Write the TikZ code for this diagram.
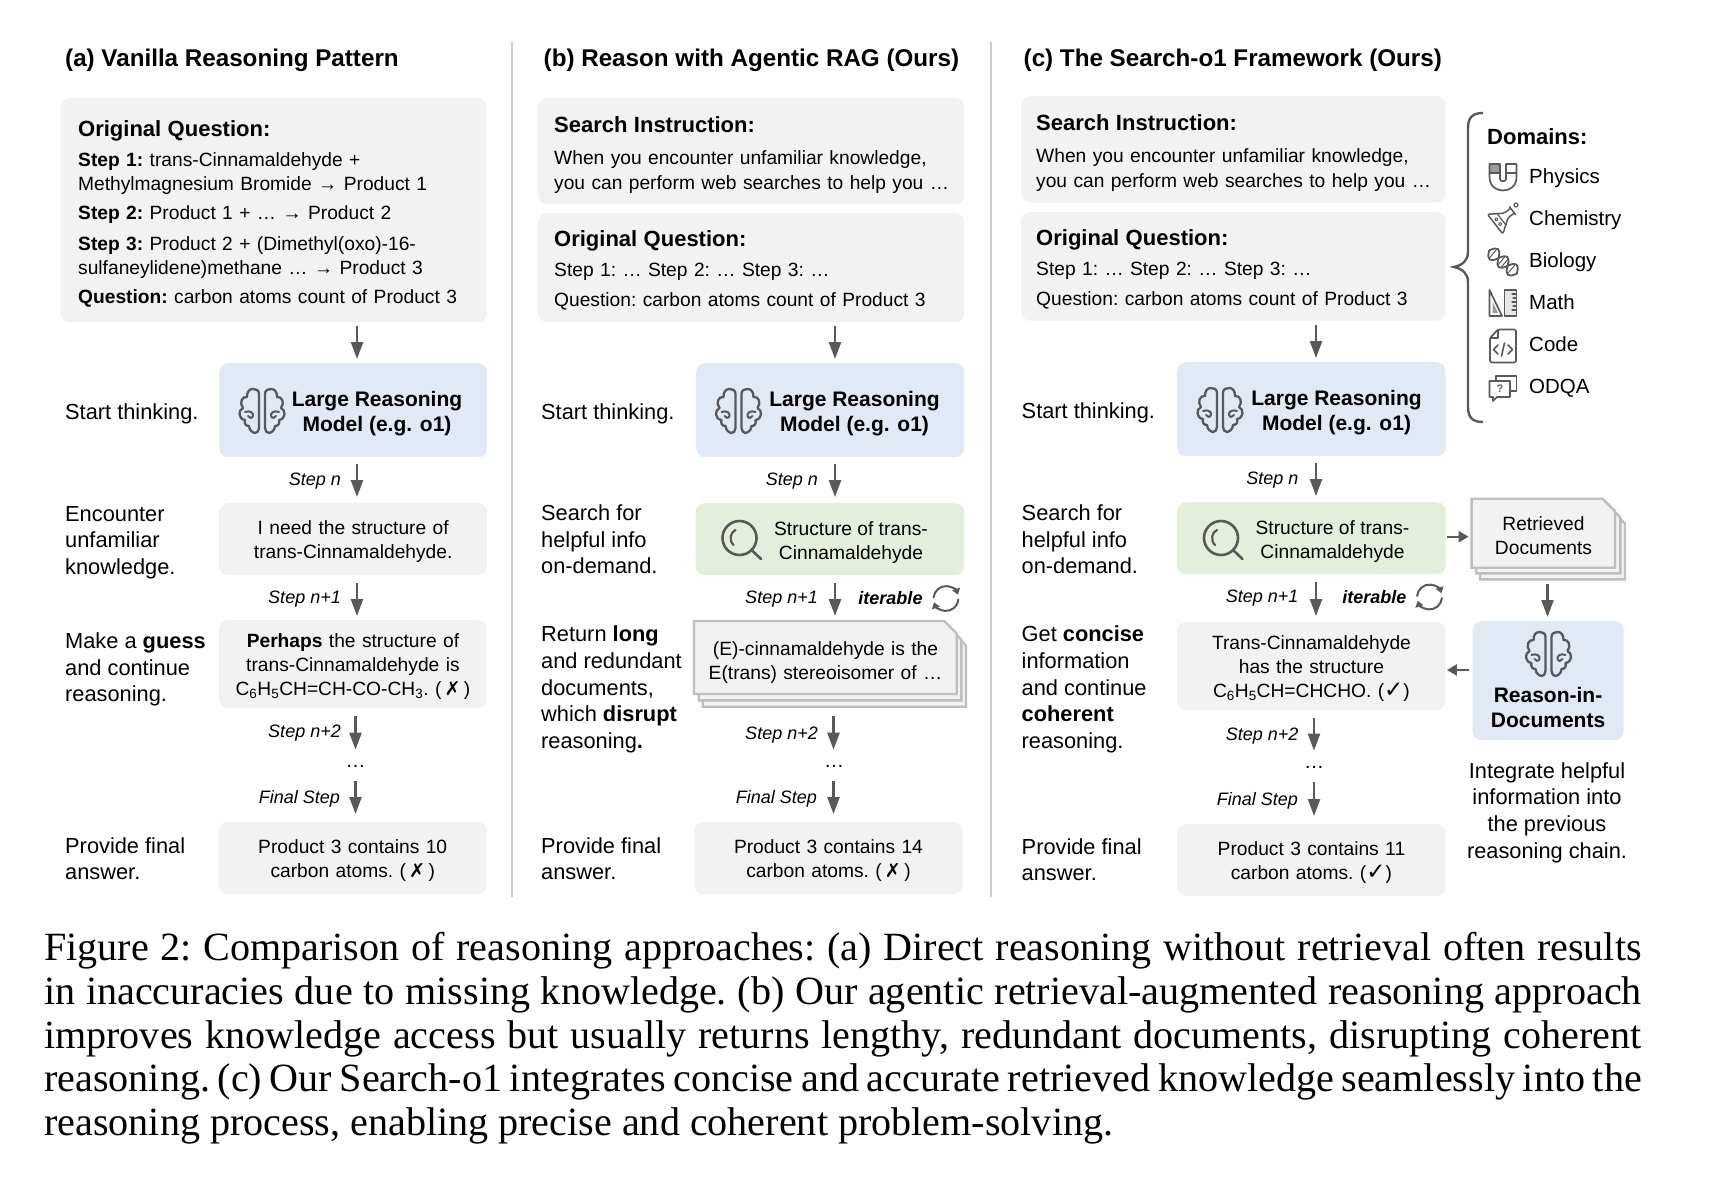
\documentclass[tikz,border=0pt]{standalone}
\usepackage{fontspec}
\setmainfont{Liberation Sans}
\newfontfamily\capfont{Liberation Serif}
\newfontfamily\symfont{DejaVu Sans}
\usetikzlibrary{arrows.meta}

\definecolor{panelgrey}{HTML}{F2F2F2}
\definecolor{panelblue}{HTML}{E0E9F4}
\definecolor{panelgreen}{HTML}{E3EEDB}
\definecolor{sheetline}{HTML}{BEBEBE}
\definecolor{inkgrey}{HTML}{595959}

\newcommand{\bodyfont}{\fontsize{19.2}{24}\selectfont\frenchspacing}
\newcommand{\headfont}{\fontsize{22}{26}\selectfont\bfseries}
\newcommand{\nope}{{\symfont\bfseries ✗}}
\newcommand{\yep}{{\symfont\fontsize{23}{24}\selectfont ✓}}
\newcommand{\nudge}[1][5pt]{\par\nointerlineskip\vskip-#1\hbox{}}
\newcommand{\docsheet}[4]{\draw[sheet] (#1,#2) -- (#3-12.5,#2) -- (#3,#2+12.5) -- (#3,#4) -- (#1,#4) -- cycle;}

\tikzset{
	panel/.style={rounded corners=9pt,inner sep=0pt,anchor=north west,align=center,font=\bodyfont},
	greypanel/.style={panel,fill=panelgrey},
	bluepanel/.style={panel,fill=panelblue},
	greenpanel/.style={panel,fill=panelgreen},
	sheet/.style={draw=sheetline,fill=panelgrey,line width=2.4pt},
	sheettext/.style={inner sep=0pt,anchor=north west,align=center,font=\bodyfont},
	title/.style={inner sep=0pt,anchor=west,yshift=-2.5pt,font=\fontsize{24.2}{28}\selectfont\bfseries},
	domainhead/.style={inner sep=0pt,anchor=west,font=\headfont},
	domaintext/.style={inner sep=0pt,anchor=west,yshift=-1pt,text height=15pt,text depth=4pt,font=\fontsize{20.5}{24}\selectfont},
	sidetag/.style={inner sep=0pt,anchor=west,yshift=-2.5pt,align=left,font=\fontsize{21.8}{26.6}\selectfont\frenchspacing},
	steptag/.style={inner sep=0pt,anchor=east,yshift=-2.5pt,font=\fontsize{18}{22}\selectfont\itshape},
	itertag/.style={inner sep=0pt,anchor=east,font=\fontsize{18}{22}\selectfont\bfseries\itshape},
	modeltext/.style={inner sep=0pt,align=center,yshift=-2.5pt,font=\fontsize{21}{25}\selectfont\bfseries},
	plaintext/.style={inner sep=0pt,align=center,yshift=-3.5pt,font=\bodyfont},
	moredots/.style={inner sep=0pt,anchor=base,font=\fontsize{20}{24}\selectfont},
	flow/.style={draw=inkgrey,line width=2.4pt,-{Triangle[length=17pt,width=12pt]}},
	sideflow/.style={draw=inkgrey,line width=2.4pt,-{Triangle[length=10pt,width=11pt]}},
	iconline/.style={draw=inkgrey,line width=1.7pt,line join=round,line cap=round},
	brainicon/.pic={
		\foreach \flip in {1,-1}{
			\begin{scope}[xscale=\flip]
				\draw[iconline,line width=2.3pt] (3,-17) .. controls (3,-21) and (6,-22) .. (9,-22)
					.. controls (13,-22) and (15,-19) .. (15,-14) .. controls (20,-15) and (23,-8) .. (19,-3)
					.. controls (24,-1) and (24,8) .. (17,9) .. controls (18,13) and (16,15) .. (13,15)
					.. controls (13,20) and (8,22) .. (7,22) .. controls (5,22) and (3,20) .. (3,17) -- cycle;
				\draw[iconline,line width=2pt] (17,1) .. controls (12,-1) and (8,2) .. (9,5) .. controls (10,8) and (13,7) .. (14,5);
			\end{scope}
		}
	},
	lensicon/.pic={
		\draw[iconline,line width=2.6pt] (0,0) circle (17pt);
		\draw[iconline,line width=2.6pt] (12,12) -- (21.5,21);
		\draw[iconline,line width=2.2pt] (-6,7) .. controls (-11,2) and (-9,-6) .. (-4,-8);
	},
	loopicon/.pic={
		\draw[iconline,line width=2pt,-{Triangle[length=6pt,width=8pt]}] (-12.4,-1) arc[start angle=175,end angle=18,radius=12.5pt];
		\draw[iconline,line width=2pt,-{Triangle[length=6pt,width=8pt]}] (12.4,1) arc[start angle=-5,end angle=-162,radius=12.5pt];
	},
	magneticon/.pic={
		\fill[inkgrey!60] (-13.5,-13) rectangle (-3,-4);
		\draw[iconline] (-13.5,-13) -- (-13.5,0) .. controls (-13.5,9) and (-7,13.5) .. (0,13.5)
			.. controls (7,13.5) and (13.5,9) .. (13.5,0) -- (13.5,-13) -- (3,-13) -- (3,2)
			.. controls (3,5) and (-3,5) .. (-3,2) -- (-3,-13) -- cycle;
		\draw[iconline] (-13.5,-4) -- (-3,-4) (3,-4) -- (13.5,-4);
	},
	flaskicon/.pic={
		\begin{scope}[rotate=-52]
			\draw[iconline,line width=1.5pt,rounded corners=2pt] (-3,-12) -- (-3,-4) -- (-12.5,10) -- (12.5,10) -- (3,-4) -- (3,-12);
			\draw[iconline,line width=1.5pt] (-5,-12) -- (5,-12);
			\draw[iconline,line width=1.2pt] (-7.5,2) -- (7.5,2);
			\draw[iconline,line width=1pt] (-3,6) circle (1.6pt) (3,6) circle (1.6pt);
		\end{scope}
		\draw[iconline,line width=1.2pt] (13,-13) circle (2pt);
	},
	helixicon/.pic={
		\begin{scope}[rotate=-40]
			\draw[iconline,line width=1.8pt] (-18,0) .. controls (-14,-9) and (-10,-9) .. (-6,0) .. controls (-2,9) and (2,9) .. (6,0) .. controls (10,-9) and (14,-9) .. (18,0);
			\draw[iconline,line width=1.8pt] (-18,0) .. controls (-14,9) and (-10,9) .. (-6,0) .. controls (-2,-9) and (2,-9) .. (6,0) .. controls (10,9) and (14,9) .. (18,0);
			\draw[iconline,line width=1pt] (-13,-5) -- (-13,5) (-2,-5) -- (-2,5) (2,-5) -- (2,5) (11,-5) -- (11,5);
		\end{scope}
	},
	rulericon/.pic={
		\draw[iconline] (-13.5,-13) -- (-13.5,13) -- (-1,13) -- cycle;
		\fill[inkgrey!60] (-10.5,-1) -- (-10.5,10) -- (-5,10) -- cycle;
		\fill[inkgrey!15] (1.5,-13) rectangle (13.5,13);
		\draw[iconline] (1.5,-13) rectangle (13.5,13);
		\draw[iconline,line width=1.1pt] (13,-9) -- (9,-9) (13,-5) -- (10,-5) (13,-1) -- (9,-1) (13,3) -- (10,3) (13,7) -- (9,7);
	},
	codeicon/.pic={
		\draw[iconline,rounded corners=1.5pt] (-5,-16.5) -- (13,-16.5) -- (13,16.5) -- (-13,16.5) -- (-13,-8) -- cycle;
		\draw[iconline,line width=1.2pt] (-5,-16.5) -- (-5,-8) -- (-13,-8);
		\draw[iconline,line width=1.6pt] (-5,-1) -- (-9.5,3.5) -- (-5,8) (5,-1) -- (9.5,3.5) -- (5,8) (1.5,-3) -- (-1.5,10);
	},
	bubbleicon/.pic={
		\draw[iconline] (-7,-7) -- (-7,-12) -- (13.5,-12) -- (13.5,3) -- (8,3);
		\draw[iconline] (-13.5,-7) -- (7,-7) -- (7,9) -- (-6,9) -- (-10,13) -- (-10,9) -- (-13.5,9) -- cycle;
		\node[inner sep=0pt,text=inkgrey,font=\fontsize{11}{12}\selectfont\bfseries] (mark) at (-3,1) {?};
	}
}

\begin{document}
\begin{tikzpicture}[x=1pt,y=-1pt]
	\useasboundingbox (0,0) rectangle (1718,1178);

	% column rules
	\draw[draw=sheetline!80,line width=2pt] (512,42) -- (512,897);
	\draw[draw=sheetline!80,line width=2pt] (991,42) -- (991,897);

	% (a)
	\node[title] (titlea) at (65,58) {(a) Vanilla Reasoning Pattern};
	\node[greypanel,align=left,text width=391,inner xsep=17.5,minimum height=224] (qa) at (60.5,98) {%
		{\headfont Original Question:}\\[6pt]
		\textbf{Step 1:} trans-Cinnamaldehyde +\\
		Methylmagnesium Bromide → Product 1\\[5pt]
		\textbf{Step 2:} Product 1 + … → Product 2\\[7pt]
		\textbf{Step 3:} Product 2 + (Dimethyl(oxo)-16-\\
		sulfaneylidene)methane  … → Product 3\\[5pt]
		\textbf{Question:} carbon atoms count of Product 3\nudge[8pt]};
	\node[bluepanel,minimum width=268,minimum height=94] (lrma) at (219,363) {};
	\pic at (262,411) {brainicon};
	\node[modeltext] (lrmtexta) at (377,411) {Large Reasoning\\Model (e.g. o1)};
	\node[greypanel,text width=268,minimum height=72] (needa) at (219,503) {I need the structure of\\trans-Cinnamaldehyde.\nudge};
	\node[greypanel,text width=267.5,minimum height=88] (guessa) at (219,620) {\textbf{Perhaps} the structure of\\trans-Cinnamaldehyde is\\C\textsubscript{6}H\textsubscript{5}CH=CH-CO-CH\textsubscript{3}. (\,\nope\,)\nudge};
	\node[greypanel,text width=268,minimum height=72] (enda) at (218.5,822) {Product 3 contains 10\\carbon atoms. (\,\nope\,)\nudge};

	\node[sidetag] (starta) at (65,411) {Start thinking.};
	\node[sidetag] (meeta) at (65,540) {Encounter\\unfamiliar\\knowledge.};
	\node[sidetag] (makea) at (65,667) {Make a \textbf{guess}\\and continue\\reasoning.};
	\node[sidetag] (givea) at (65,856) {Provide final\\answer.};

	\node[steptag] (tagna) at (341,479) {Step n};
	\node[steptag] (tagoa) at (341,597) {Step n+1};
	\node[steptag] (tagpa) at (341,731) {Step n+2};
	\node[steptag] (tagfa) at (340,796) {Final Step};
	\node[moredots] (dotsa) at (355.5,767) {…};

	\coordinate (axa) at (357,0);
	\coordinate (axb) at (355.5,0);
	\draw[flow,shorten <=4pt,shorten >=4pt] (qa.south -| axa) -- (lrma.north -| axa);
	\draw[flow,shorten <=7pt,shorten >=6pt] (lrma.south -| axa) -- (needa.north -| axa);
	\draw[flow,shorten <=8pt,shorten >=4pt] (needa.south -| axa) -- (guessa.north -| axa);
	\draw[flow,shorten <=8pt,shorten >=15pt] (guessa.south -| axb) -- (dotsa.north -| axb);
	\draw[flow,shorten <=14pt,shorten >=8pt] (dotsa.south -| axb) -- (enda.north -| axb);

	% (b)
	\node[title] (titleb) at (543.5,58) {(b) Reason with Agentic RAG (Ours)};
	\node[greypanel,align=left,text width=394,inner xsep=16,minimum height=106] (searchb) at (538,98) {%
		{\headfont Search Instruction:}\\[8pt]
		When you encounter unfamiliar knowledge,\\[1pt]
		\mbox{you can perform web searches to help you …}\nudge[8pt]};
	\node[greypanel,align=left,text width=394,inner xsep=16,minimum height=109] (qb) at (538,213) {%
		{\headfont Original Question:}\\[6pt]
		Step 1: … Step 2: … Step 3: …\\[6pt]
		Question: carbon atoms count of Product 3\nudge[6pt]};
	\node[bluepanel,minimum width=268,minimum height=94] (lrmb) at (696,363) {};
	\pic at (738.5,411) {brainicon};
	\node[modeltext] (lrmtextb) at (854.5,411) {Large Reasoning\\Model (e.g. o1)};
	\node[greenpanel,minimum width=268.5,minimum height=72] (lookb) at (695.5,503) {};
	\pic at (739.5,538) {lensicon};
	\node[plaintext] (looktextb) at (851,539) {Structure of trans-\\Cinnamaldehyde};
	\docsheet{702.7}{633}{966}{706.7}
	\docsheet{698.7}{627}{961.3}{700.3}
	\docsheet{694}{621}{956.7}{694}
	\node[sheettext,text width=262.7,minimum height=73] (docb) at (694,621) {(E)-cinnamaldehyde is the\\E(trans) stereoisomer of …\nudge[9pt]};
	\node[greypanel,text width=268.5,minimum height=72] (endb) at (694,822) {Product 3 contains 14\\carbon atoms. (\,\nope\,)\nudge};

	\node[sidetag] (startb) at (541,411) {Start thinking.};
	\node[sidetag] (seekb) at (541,537) {Search for\\helpful info\\on-demand.};
	\node[sidetag] (backb) at (541,687) {Return \textbf{long}\\and redundant\\documents,\\which \textbf{disrupt}\\reasoning\textbf{.}};
	\node[sidetag] (giveb) at (541,856) {Provide final\\answer.};

	\node[steptag] (tagnb) at (818,479) {Step n};
	\node[steptag] (tagob) at (818,597) {Step n+1};
	\node[steptag] (tagpb) at (818,733) {Step n+2};
	\node[steptag] (tagfb) at (817,796) {Final Step};
	\node[itertag] (iterb) at (922.7,598) {iterable};
	\pic at (946,598.5) {loopicon};
	\node[moredots] (dotsb) at (834,767) {…};

	\coordinate (bxa) at (835,0);
	\coordinate (bxb) at (833.5,0);
	\draw[flow,shorten <=4pt,shorten >=4pt] (qb.south -| bxa) -- (lrmb.north -| bxa);
	\draw[flow,shorten <=7pt,shorten >=6pt] (lrmb.south -| bxa) -- (lookb.north -| bxa);
	\draw[flow,shorten <=8pt,shorten >=5pt] (lookb.south -| bxa) -- (docb.north -| bxa);
	\draw[flow,shorten <=22pt,shorten >=15pt] (docb.south -| bxb) -- (dotsb.north -| bxb);
	\draw[flow,shorten <=14pt,shorten >=8pt] (dotsb.south -| bxb) -- (endb.north -| bxb);

	% (c)
	\node[title] (titlec) at (1023.5,58) {(c) The Search-o1 Framework (Ours)};
	\node[greypanel,align=left,text width=394.5,inner xsep=15,minimum height=106.5] (searchc) at (1021,96) {%
		{\headfont Search Instruction:}\\[8pt]
		When you encounter unfamiliar knowledge,\\[1pt]
		\mbox{you can perform web searches to help you …}\nudge[8pt]};
	\node[greypanel,align=left,text width=394.5,inner xsep=15,minimum height=108.5] (qc) at (1021,212) {%
		{\headfont Original Question:}\\[6pt]
		Step 1: … Step 2: … Step 3: …\\[6pt]
		Question: carbon atoms count of Product 3\nudge[6pt]};
	\node[bluepanel,minimum width=268.5,minimum height=94] (lrmc) at (1177,362) {};
	\pic at (1220,410) {brainicon};
	\node[modeltext] (lrmtextc) at (1336.5,410) {Large Reasoning\\Model (e.g. o1)};
	\node[greenpanel,minimum width=268.5,minimum height=72] (lookc) at (1177,502) {};
	\pic at (1221,538) {lensicon};
	\node[plaintext] (looktextc) at (1332.5,538) {Structure of trans-\\Cinnamaldehyde};
	\node[greypanel,text width=268.5,minimum height=88] (getc) at (1177,622) {Trans-Cinnamaldehyde\\has the structure\\C\textsubscript{6}H\textsubscript{5}CH=CHCHO. (\yep)\nudge};
	\node[greypanel,text width=268.5,minimum height=72] (endc) at (1177,824) {Product 3 contains 11\\carbon atoms. (\yep)\nudge};
	\docsheet{1480}{511}{1625}{579.3}
	\docsheet{1476}{505}{1620.4}{573.3}
	\docsheet{1471.6}{498.7}{1615}{567.7}
	\node[sheettext,text width=143.4,minimum height=69] (docc) at (1471.6,498.7) {Retrieved\\Documents\nudge};
	\node[bluepanel,minimum width=151,minimum height=119] (readc) at (1472.5,621) {};
	\pic at (1548.5,654) {brainicon};
	\node[modeltext] (readtextc) at (1548,704.5) {Reason-in-\\Documents};
	\node[sidetag,align=center,anchor=center] (mergec) at (1547,810) {Integrate helpful\\information into\\the previous\\reasoning chain.};

	\node[sidetag] (startc) at (1021.5,410) {Start thinking.};
	\node[sidetag] (seekc) at (1021.5,537) {Search for\\helpful info\\on-demand.};
	\node[sidetag] (backc) at (1021.5,687) {Get \textbf{concise}\\information\\and continue\\\textbf{coherent}\\reasoning.};
	\node[sidetag] (givec) at (1021.5,857) {Provide final\\answer.};

	\node[steptag] (tagnc) at (1298.5,478) {Step n};
	\node[steptag] (tagoc) at (1298.5,596) {Step n+1};
	\node[steptag] (tagpc) at (1298.5,734) {Step n+2};
	\node[steptag] (tagfc) at (1298,798) {Final Step};
	\node[itertag] (iterc) at (1406.5,597) {iterable};
	\pic at (1429.5,597) {loopicon};
	\node[moredots] (dotsc) at (1314,768) {…};

	\coordinate (cxa) at (1316,0);
	\coordinate (cxb) at (1314,0);
	\coordinate (cxd) at (1547.5,0);
	\coordinate (rowo) at (0,536.7);
	\coordinate (rowp) at (0,670);
	\draw[flow,shorten <=4pt,shorten >=4pt] (qc.south -| cxa) -- (lrmc.north -| cxa);
	\draw[flow,shorten <=7pt,shorten >=6pt] (lrmc.south -| cxa) -- (lookc.north -| cxa);
	\draw[flow,shorten <=8pt,shorten >=6pt] (lookc.south -| cxa) -- (getc.north -| cxa);
	\draw[flow,shorten <=8pt,shorten >=15pt] (getc.south -| cxb) -- (dotsc.north -| cxb);
	\draw[flow,shorten <=14pt,shorten >=8pt] (dotsc.south -| cxb) -- (endc.north -| cxb);
	\draw[sideflow,shorten <=1pt,shorten >=3pt] (lookc.east |- rowo) -- (docc.west |- rowo);
	\draw[flow,shorten <=16pt,shorten >=4pt] (docc.south -| cxd) -- (readc.north -| cxd);
	\draw[sideflow,shorten <=4pt,shorten >=1pt] (readc.west |- rowp) -- (getc.east |- rowp);

	% domains
	\draw[draw=inkgrey,line width=2.4pt] (1483,113) .. controls (1472,113) and (1468,118) .. (1468,128) -- (1468,252)
		.. controls (1468,260) and (1463,265) .. (1454,267) .. controls (1463,269) and (1468,274) .. (1468,282)
		-- (1468,407) .. controls (1468,417) and (1472,422) .. (1483,422);
	\node[domainhead] (domains) at (1487,137) {Domains:};
	\pic at (1503,177) {magneticon};
	\pic at (1503,218) {flaskicon};
	\pic at (1503,262) {helixicon};
	\pic at (1503,303) {rulericon};
	\pic at (1503,346) {codeicon};
	\pic at (1503,388) {bubbleicon};
	\node[domaintext] (physics) at (1529,177) {Physics};
	\node[domaintext] (chem) at (1529,219) {Chemistry};
	\node[domaintext] (bio) at (1529,261) {Biology};
	\node[domaintext] (maths) at (1529,303) {Math};
	\node[domaintext] (code) at (1529,345) {Code};
	\node[domaintext] (odqa) at (1529,387) {ODQA};

	% caption
	\node[inner sep=0pt,anchor=north west,text width=1597.5,align=justify,font=\capfont\fontsize{40.1}{43.8}\selectfont\frenchspacing] (caption) at (44,932) {Figure 2: Comparison of reasoning approaches: (a) Direct reasoning without retrieval often results\linebreak
	in inaccuracies due to missing knowledge. (b) Our agentic retrieval-augmented reasoning approach\linebreak
	improves knowledge access but usually returns lengthy, redundant documents, disrupting coherent\linebreak
	reasoning. (c) Our Search-o1 integrates concise and accurate retrieved knowledge seamlessly into the\linebreak
	reasoning process, enabling precise and coherent problem-solving.};
\end{tikzpicture}
\end{document}
